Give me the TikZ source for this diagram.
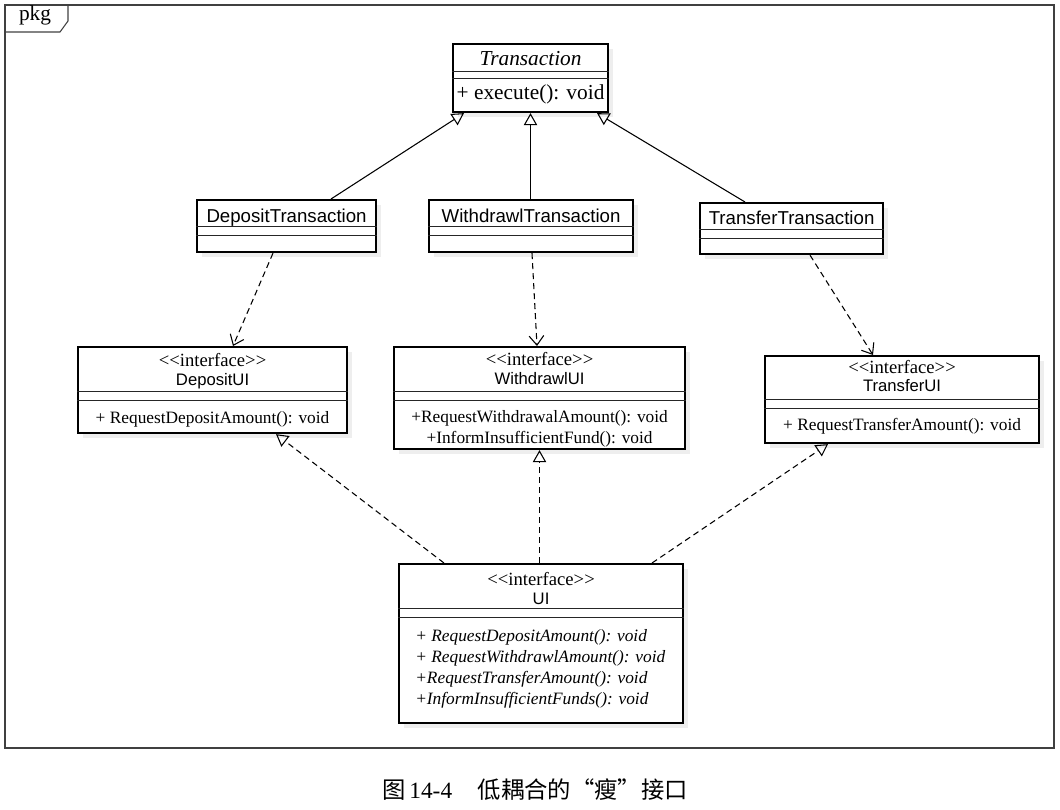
\documentclass[tikz,border=0pt]{standalone}
\usepackage{fontspec}
\setmainfont{Liberation Serif}
\newfontfamily\arialf{Liberation Sans}
\newfontfamily\cjkf{Noto Sans CJK SC}
\usetikzlibrary{arrows.meta,shadows,calc}
\begin{document}
\begin{tikzpicture}[x=0.75pt,y=-0.75pt,
  box/.style={draw, line width=1.6pt, fill=white, inner sep=0pt, anchor=north west,
    drop shadow={shadow xshift=3.5pt, shadow yshift=-3.5pt, fill=black!13}},
  sep/.style={line width=0.7pt, draw=black!85},
  cname/.style={font=\arialf\fontsize{14}{16}\selectfont, inner sep=0pt, anchor=base},
  iname/.style={font=\arialf\fontsize{12.5}{14}\selectfont, inner sep=0pt, anchor=base},
  stereo/.style={font=\fontsize{14}{16}\selectfont, inner sep=0pt, anchor=base},
  meth/.style={font=\fontsize{13}{15}\selectfont, inner sep=0pt, anchor=base},
  imeth/.style={font=\itshape\fontsize{13}{15}\selectfont, inner sep=0pt, anchor=base west},
  conn/.style={line width=0.8pt},
  gen/.style={conn, -{Triangle[open, length=9pt, width=10pt]}},
  dep/.style={conn, dash pattern=on 4.5pt off 3pt, -{Straight Barb[length=7pt, width=11pt]}},
  real/.style={conn, dash pattern=on 4.5pt off 3pt, -{Triangle[open, length=9pt, width=10pt]}}
]
\useasboundingbox (0,0) rectangle (1060,810);
% package frame
\draw[line width=0.8pt, draw=black!75] (5,5) rectangle (1054,748);
\draw[line width=0.8pt, draw=black!75] (5,32) -- (60,32) -- (68,21) -- (68,5);
\node[font=\fontsize{16}{18}\selectfont, inner sep=0pt, anchor=base] (pkg) at (35,21) {pkg};

% Transaction
\node[box, minimum width={155*0.75pt}, minimum height={68*0.75pt}] (tr) at (452,43) {};
\draw[sep] (tr.west |- 0,71) -- (tr.east |- 0,71);
\draw[sep] (tr.west |- 0,78) -- (tr.east |- 0,78);
\node[font=\itshape\fontsize{16}{18}\selectfont, inner sep=0pt, anchor=base] (trn) at (tr.center |- 0,65) {Transaction};
\node[font=\fontsize{16}{18}\selectfont, inner sep=0pt, anchor=base] (trm) at (tr.center |- 0,99) {+ execute(): void};

% DepositTransaction
\node[box, minimum width={179*0.75pt}, minimum height={52*0.75pt}] (dt) at (196,199) {};
\draw[sep] (dt.west |- 0,226) -- (dt.east |- 0,226);
\draw[sep] (dt.west |- 0,235) -- (dt.east |- 0,235);
\node[cname] (dtn) at (dt.center |- 0,222) {DepositTransaction};

% WithdrawlTransaction
\node[box, minimum width={204*0.75pt}, minimum height={52*0.75pt}] (wt) at (428,199) {};
\draw[sep] (wt.west |- 0,226) -- (wt.east |- 0,226);
\draw[sep] (wt.west |- 0,235) -- (wt.east |- 0,235);
\node[cname] (wtn) at (wt.center |- 0,222) {WithdrawlTransaction};

% TransferTransaction
\node[box, minimum width={183*0.75pt}, minimum height={51*0.75pt}] (tt) at (699,202) {};
\draw[sep] (tt.west |- 0,229) -- (tt.east |- 0,229);
\draw[sep] (tt.west |- 0,238) -- (tt.east |- 0,238);
\node[cname] (ttn) at (tt.center |- 0,224) {TransferTransaction};

% DepositUI
\node[box, minimum width={269*0.75pt}, minimum height={86*0.75pt}] (du) at (77,346) {};
\draw[sep] (du.west |- 0,391) -- (du.east |- 0,391);
\draw[sep] (du.west |- 0,400) -- (du.east |- 0,400);
\node[stereo] (dus) at (du.center |- 0,366) {<{}<interface>{}>};
\node[iname] (dun) at (du.center |- 0,385) {DepositUI};
\node[meth] (dum) at (du.center |- 0,423) {+ RequestDepositAmount(): void};

% WithdrawlUI
\node[box, minimum width={291*0.75pt}, minimum height={102*0.75pt}] (wu) at (393,346) {};
\draw[sep] (wu.west |- 0,391) -- (wu.east |- 0,391);
\draw[sep] (wu.west |- 0,400) -- (wu.east |- 0,400);
\node[stereo] (wus) at (wu.center |- 0,365) {<{}<interface>{}>};
\node[iname] (wun) at (wu.center |- 0,384) {WithdrawlUI};
\node[meth] (wum1) at (wu.center |- 0,422) {+RequestWithdrawalAmount(): void};
\node[meth] (wum2) at (wu.center |- 0,443) {+InformInsufficientFund(): void};

% TransferUI
\node[box, minimum width={274*0.75pt}, minimum height={87*0.75pt}] (tu) at (764,355) {};
\draw[sep] (tu.west |- 0,399) -- (tu.east |- 0,399);
\draw[sep] (tu.west |- 0,408) -- (tu.east |- 0,408);
\node[stereo] (tus) at (tu.center |- 0,373) {<{}<interface>{}>};
\node[iname] (tun) at (tu.center |- 0,391) {TransferUI};
\node[meth] (tum) at (tu.center |- 0,430) {+ RequestTransferAmount(): void};

% UI
\node[box, minimum width={284*0.75pt}, minimum height={159*0.75pt}] (ui) at (398,563) {};
\draw[sep] (ui.west |- 0,608) -- (ui.east |- 0,608);
\draw[sep] (ui.west |- 0,617) -- (ui.east |- 0,617);
\node[stereo] (uis) at (ui.center |- 0,585) {<{}<interface>{}>};
\node[iname] (uin) at (ui.center |- 0,604) {UI};
\node[imeth] (uim1) at (415,0 |- 0,641) {+ RequestDepositAmount(): void};
\node[imeth] (uim2) at (415,0 |- 0,662) {+ RequestWithdrawlAmount(): void};
\node[imeth] (uim3) at (415,0 |- 0,683) {+RequestTransferAmount(): void};
\node[imeth] (uim4) at (415,0 |- 0,704) {+InformInsufficientFunds(): void};

% generalizations
\draw[gen] (331,0 |- dt.north) -- (464,0 |- tr.south);
\draw[gen] (530.5,0 |- wt.north) -- (530.5,0 |- tr.south);
\draw[gen] (745,0 |- tt.north) -- (597,0 |- tr.south);

% dependencies
\draw[dep] (273,0 |- dt.south) -- (233,0 |- du.north);
\draw[dep] (532,0 |- wt.south) -- (537,0 |- wu.north);
\draw[dep] (810,0 |- tt.south) -- (873,0 |- tu.north);

% realizations
\draw[real] (444,0 |- ui.north) -- (276,0 |- du.south);
\draw[real] (539.5,0 |- ui.north) -- (539.5,0 |- wu.south);
\draw[real] (652,0 |- ui.north) -- (828,0 |- tu.south);

% caption
\node[font=\cjkf\fontsize{17.5}{21}\selectfont, inner sep=0pt] (cap) at (535,790)
  {图\,{\rmfamily 14-4}\hspace{1.1em}低耦合的“瘦”接口};
\end{tikzpicture}
\end{document}
